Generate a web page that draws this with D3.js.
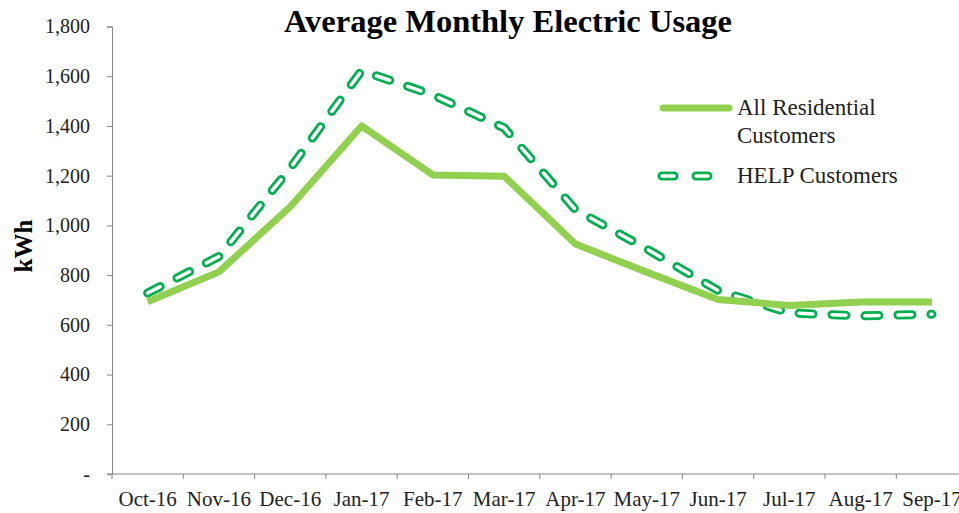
<!DOCTYPE html>
<html>
<head>
<meta charset="utf-8">
<script src="https://cdn.jsdelivr.net/npm/d3@7"></script>
<style>
  body { margin: 0; background: #fff; }
  text { font-family: "Liberation Serif", "Times New Roman", serif; }
</style>
</head>
<body>
<div class="chart"></div>
<script>
let width = 959;
let height = 513;

// données
let months = ["Oct-16", "Nov-16", "Dec-16", "Jan-17", "Feb-17", "Mar-17",
              "Apr-17", "May-17", "Jun-17", "Jul-17", "Aug-17", "Sep-17"];
let allResidential = [693, 813, 1075, 1400, 1203, 1198, 925, 812, 702, 678, 692, 692];
let helpCustomers = [728, 875, 1230, 1622, 1525, 1392, 1063, 905, 738, 648, 636, 643];
let yTicks = [0, 200, 400, 600, 800, 1000, 1200, 1400, 1600, 1800];

let svg = d3.select('.chart')
    .append('svg')
    .attr('width', width)
    .attr('height', height);

let x = d3.scaleBand()
    .domain(months)
    .range([112, 112 + 12 * 71.3]);

let y = d3.scaleLinear()
    .domain([0, 1800])
    .range([474, 26.5]);

// axe Y
let yAxis = d3.axisLeft(y)
    .tickValues(yTicks)
    .tickSize(5)
    .tickPadding(17)
    .tickFormat(d => d === 0 ? "-" : d3.format(",")(d));
let gy = svg.append("g")
    .attr("transform", "translate(112,0)")
    .call(yAxis);
gy.select(".domain").attr("stroke", "#868686");
gy.selectAll(".tick line").attr("stroke", "#868686");
gy.selectAll(".tick text")
    .attr("font-size", 20)
    .attr("fill", "#222");

// axe X
let xAxis = d3.axisBottom(x)
    .tickSize(0)
    .tickSizeOuter(0)
    .tickPadding(17);
let gx = svg.append("g")
    .attr("transform", "translate(0,474)")
    .call(xAxis);
gx.select(".domain").remove();
gx.selectAll(".tick text")
    .attr("font-size", 21)
    .attr("fill", "#222");
svg.append("line")
    .attr("x1", 107).attr("x2", width)
    .attr("y1", 474).attr("y2", 474)
    .attr("stroke", "#868686");
// petites graduations entre les mois
svg.selectAll(".xtick")
    .data(months)
    .enter()
    .append("line")
    .attr("x1", d => x(d)).attr("x2", d => x(d))
    .attr("y1", 474).attr("y2", 479)
    .attr("stroke", "#868686");

// titre de l'axe
svg.append("text")
    .attr("transform", "translate(32,246) rotate(-90)")
    .attr("text-anchor", "middle")
    .attr("font-size", 25)
    .attr("font-weight", "bold")
    .text("kWh");

// titre
svg.append("text")
    .attr("x", 508)
    .attr("y", 32)
    .attr("text-anchor", "middle")
    .attr("font-size", 32.5)
    .attr("font-weight", "bold")
    .text("Average Monthly Electric Usage");

let line = d3.line()
    .x((d, i) => x(months[i]) + x.bandwidth() / 2)
    .y(d => y(d));

// courbe HELP : trait double en pointillés
svg.append("path")
    .attr("d", line(helpCustomers))
    .attr("fill", "none")
    .attr("stroke", "#00B050")
    .attr("stroke-width", 9)
    .attr("stroke-linecap", "round")
    .attr("stroke-linejoin", "round")
    .attr("stroke-dasharray", "14,19");
svg.append("path")
    .attr("d", line(helpCustomers))
    .attr("fill", "none")
    .attr("stroke", "#fff")
    .attr("stroke-width", 3.5)
    .attr("stroke-linecap", "round")
    .attr("stroke-linejoin", "round")
    .attr("stroke-dasharray", "14,19");

// courbe tous clients résidentiels
svg.append("path")
    .attr("d", line(allResidential))
    .attr("fill", "none")
    .attr("stroke", "#92D050")
    .attr("stroke-width", 7)
    .attr("stroke-linejoin", "round");

// légende
svg.append("line")
    .attr("x1", 663).attr("x2", 729)
    .attr("y1", 108).attr("y2", 108)
    .attr("stroke", "#92D050")
    .attr("stroke-width", 7)
    .attr("stroke-linecap", "round");
svg.append("text")
    .attr("x", 737).attr("y", 115)
    .attr("font-size", 23)
    .attr("fill", "#222")
    .text("All Residential");
svg.append("text")
    .attr("x", 737).attr("y", 143)
    .attr("font-size", 23)
    .attr("fill", "#222")
    .text("Customers");
svg.append("line")
    .attr("x1", 662).attr("x2", 714)
    .attr("y1", 176).attr("y2", 176)
    .attr("stroke", "#00B050")
    .attr("stroke-width", 9)
    .attr("stroke-linecap", "round")
    .attr("stroke-dasharray", "12,22");
svg.append("line")
    .attr("x1", 662).attr("x2", 714)
    .attr("y1", 176).attr("y2", 176)
    .attr("stroke", "#fff")
    .attr("stroke-width", 3.5)
    .attr("stroke-linecap", "round")
    .attr("stroke-dasharray", "12,22");
svg.append("text")
    .attr("x", 737).attr("y", 183)
    .attr("font-size", 23)
    .attr("fill", "#222")
    .text("HELP Customers");
</script>
</body>
</html>
